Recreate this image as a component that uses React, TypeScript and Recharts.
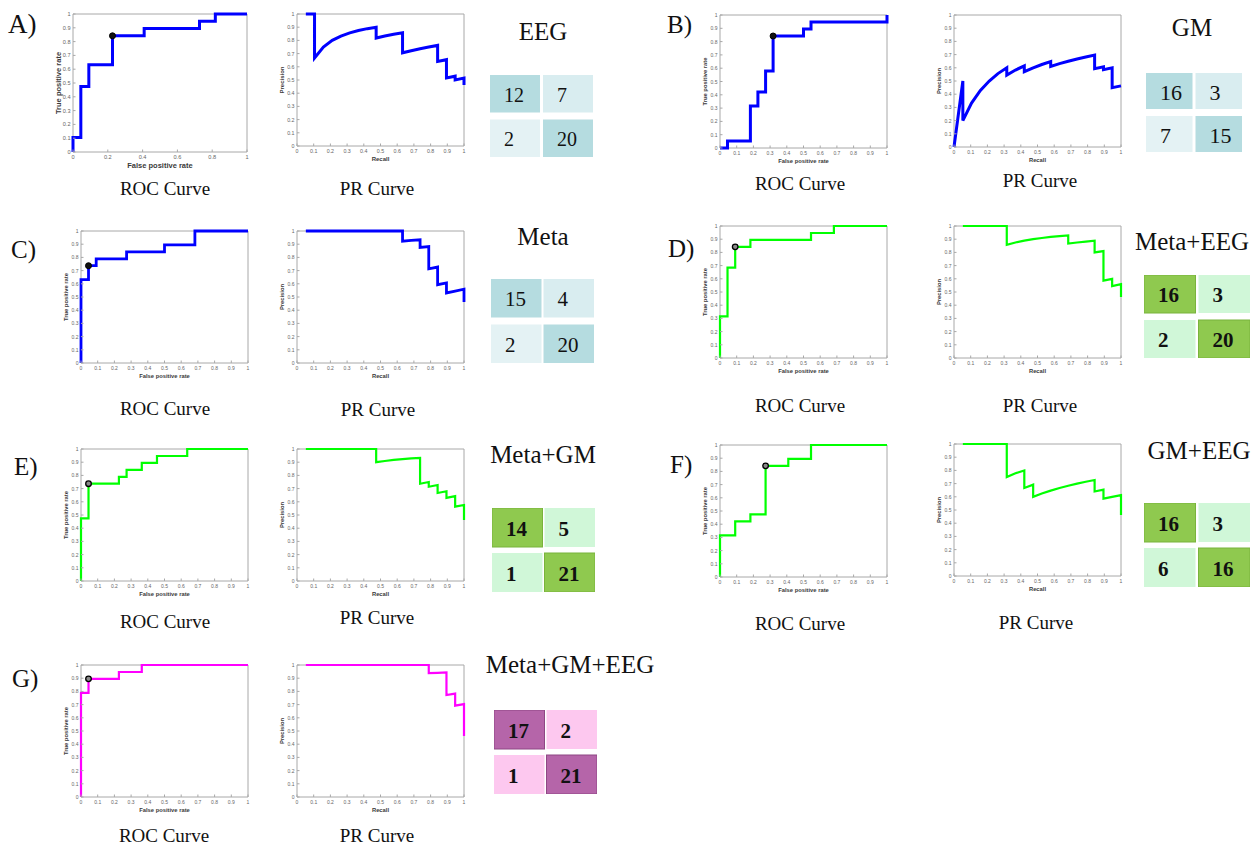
import React from 'react';
import { ComposedChart, ScatterChart, Line, Scatter, XAxis, YAxis, CartesianGrid } from 'recharts';

// ---------------- data ----------------
const TICKS = [0, 0.1, 0.2, 0.3, 0.4, 0.5, 0.6, 0.7, 0.8, 0.9, 1];
const TICKS_COARSE = [0, 0.2, 0.4, 0.6, 0.8, 1];
const FRAME = [0, 1];

const ROC_A = [[0,0],[0,0.105],[0.045,0.105],[0.045,0.474],[0.091,0.474],[0.091,0.632],[0.227,0.632],[0.227,0.842],[0.409,0.842],[0.409,0.895],[0.727,0.895],[0.727,0.947],[0.818,0.947],[0.818,1],[1,1]];
const OP_A = [0.227, 0.842];
const PR_A = [[0.053,1],[0.105,1],[0.105,0.667],[0.158,0.75],[0.211,0.8],[0.263,0.833],[0.316,0.857],[0.368,0.875],[0.421,0.889],[0.474,0.9],[0.474,0.818],[0.526,0.833],[0.579,0.846],[0.632,0.857],[0.632,0.706],[0.684,0.722],[0.737,0.737],[0.789,0.75],[0.842,0.762],[0.842,0.64],[0.895,0.654],[0.895,0.515],[0.947,0.529],[0.947,0.5],[1,0.514],[1,0.463]];
const CM_A = [12, 7, 2, 20];

const ROC_B = [[0,0],[0.045,0],[0.045,0.053],[0.182,0.053],[0.182,0.316],[0.227,0.316],[0.227,0.421],[0.273,0.421],[0.273,0.579],[0.318,0.579],[0.318,0.842],[0.5,0.842],[0.5,0.895],[0.545,0.895],[0.545,0.947],[1,0.947],[1,1]];
const OP_B = [0.318, 0.842];
const PR_B = [[0,0],[0.053,0.5],[0.053,0.2],[0.105,0.333],[0.158,0.429],[0.211,0.5],[0.263,0.556],[0.316,0.6],[0.316,0.545],[0.368,0.583],[0.421,0.615],[0.421,0.571],[0.474,0.6],[0.526,0.625],[0.579,0.647],[0.579,0.611],[0.632,0.632],[0.684,0.65],[0.737,0.667],[0.789,0.682],[0.842,0.696],[0.842,0.593],[0.895,0.607],[0.895,0.586],[0.947,0.6],[0.947,0.45],[1,0.463]];
const CM_B = [16, 3, 7, 15];

const ROC_C = [[0,0],[0,0.632],[0.045,0.632],[0.045,0.737],[0.091,0.737],[0.091,0.789],[0.273,0.789],[0.273,0.842],[0.5,0.842],[0.5,0.895],[0.682,0.895],[0.682,1],[1,1]];
const OP_C = [0.045, 0.737];
const PR_C = [[0.053,1],[0.632,1],[0.632,0.923],[0.684,0.929],[0.737,0.933],[0.737,0.875],[0.789,0.882],[0.789,0.714],[0.842,0.727],[0.842,0.593],[0.895,0.607],[0.895,0.531],[0.947,0.545],[1,0.559],[1,0.463]];
const CM_C = [15, 4, 2, 20];

const ROC_D = [[0,0],[0,0.316],[0.045,0.316],[0.045,0.684],[0.091,0.684],[0.091,0.842],[0.182,0.842],[0.182,0.895],[0.545,0.895],[0.545,0.947],[0.682,0.947],[0.682,1],[1,1]];
const OP_D = [0.091, 0.842];
const PR_D = [[0.053,1],[0.316,1],[0.316,0.857],[0.368,0.875],[0.421,0.889],[0.474,0.9],[0.526,0.909],[0.579,0.917],[0.632,0.923],[0.684,0.929],[0.684,0.867],[0.737,0.875],[0.789,0.882],[0.842,0.889],[0.842,0.8],[0.895,0.81],[0.895,0.586],[0.947,0.6],[0.947,0.545],[1,0.559],[1,0.463]];
const CM_D = [16, 3, 2, 20];

const ROC_E = [[0,0],[0,0.474],[0.045,0.474],[0.045,0.737],[0.227,0.737],[0.227,0.789],[0.273,0.789],[0.273,0.842],[0.364,0.842],[0.364,0.895],[0.455,0.895],[0.455,0.947],[0.636,0.947],[0.636,1],[1,1]];
const OP_E = [0.045, 0.737];
const PR_E = [[0.053,1],[0.474,1],[0.474,0.9],[0.526,0.909],[0.579,0.917],[0.632,0.923],[0.684,0.929],[0.737,0.933],[0.737,0.737],[0.789,0.75],[0.789,0.714],[0.842,0.727],[0.842,0.667],[0.895,0.68],[0.895,0.63],[0.947,0.643],[0.947,0.563],[1,0.576],[1,0.463]];
const CM_E = [14, 5, 1, 21];

const ROC_F = [[0,0],[0,0.316],[0.091,0.316],[0.091,0.421],[0.182,0.421],[0.182,0.474],[0.273,0.474],[0.273,0.842],[0.409,0.842],[0.409,0.895],[0.545,0.895],[0.545,1],[1,1]];
const OP_F = [0.273, 0.842];
const PR_F = [[0.053,1],[0.316,1],[0.316,0.75],[0.368,0.778],[0.421,0.8],[0.421,0.667],[0.474,0.692],[0.474,0.6],[0.526,0.625],[0.579,0.647],[0.632,0.667],[0.684,0.684],[0.737,0.7],[0.789,0.714],[0.842,0.727],[0.842,0.64],[0.895,0.654],[0.895,0.586],[0.947,0.6],[1,0.613],[1,0.463]];
const CM_F = [16, 3, 6, 16];

const ROC_G = [[0,0],[0,0.789],[0.045,0.789],[0.045,0.895],[0.227,0.895],[0.227,0.947],[0.364,0.947],[0.364,1],[1,1]];
const OP_G = [0.045, 0.895];
const PR_G = [[0.053,1],[0.789,1],[0.789,0.938],[0.842,0.941],[0.895,0.944],[0.895,0.773],[0.947,0.783],[0.947,0.692],[1,0.704],[1,0.463]];
const CM_G = [17, 2, 1, 21];

const TITLES = ['EEG', 'GM', 'Meta', 'Meta+EEG', 'Meta+GM', 'GM+EEG', 'Meta+GM+EEG'];
const LETTERS = ['A)', 'B)', 'C)', 'D)', 'E)', 'F)', 'G)'];

// ---------------- styles / layout ----------------
const SANS = 'Liberation Sans, Arial, sans-serif';
const SERIF = 'Liberation Serif, Times New Roman, serif';
const AX = '#a8a8a8';
const TICKTXT = '#666';
const LAB = '#3a3a3a';
const BLUE = '#0000ff';
const GREEN = '#00ff00';
const MAGENTA = '#ff00ff';

const TEAL = ['#b5dce0', '#d9edf0', '#e4f2f4', '#b5dce0'];
const LIME = ['#8fc94f', '#d0f7d8', '#d0f7d8', '#8fc94f'];
const PINK = ['#b565a9', '#fdc8ef', '#fdc8ef', '#b565a9'];

const mkTick = (side: string, fs: number) => (p: any) => {
  const { x, y, payload } = p;
  const v = payload.value as number;
  const s = v === 0 ? '0' : v === 1 ? '1' : v.toFixed(1);
  const t = 2.5;
  if (side === 'b') {
    return (
      <g>
        <line x1={x} y1={y} x2={x} y2={y - t} stroke={AX} />
        <text x={x} y={y + 2.5} fontSize={fs} fill={TICKTXT} textAnchor="middle" dominantBaseline="hanging" fontFamily={SANS}>{s}</text>
      </g>
    );
  }
  if (side === 't') return <line x1={x} y1={y} x2={x} y2={y + t} stroke={AX} />;
  if (side === 'l') {
    return (
      <g>
        <line x1={x} y1={y} x2={x + t} y2={y} stroke={AX} />
        <text x={x - 2.5} y={y} fontSize={fs} fill={TICKTXT} textAnchor="end" dominantBaseline="central" fontFamily={SANS}>{s}</text>
      </g>
    );
  }
  return <line x1={x} y1={y} x2={x - t} y2={y} stroke={AX} />;
};

type Box = { x: number; y: number; w: number; h: number };

function Plot(props: {
  box: Box; pts: number[][]; op?: number[]; color: string; sw: number; hollow?: boolean;
  xTicks: number[]; xLab: string; yLab: string; tfs: number; lfs: number;
}) {
  const { box, pts, op, color, sw, hollow, xTicks, xLab, yLab, tfs, lfs } = props;
  const L = 30, T = 4, R = 4, B = 26;
  const W = box.w + L + R, H = box.h + T + B;
  const data = pts.map(([x, y]) => ({ x, y }));
  const dot = op ? [{ x: op[0], y: op[1] }] : [];
  const common: any = {
    type: 'number', domain: [0, 1], interval: 0,
    tickLine: false, tickSize: 0, tickMargin: 0, axisLine: false,
  };
  return (
    <div style={{ position: 'absolute', left: box.x - L, top: box.y - T, width: W, height: H }}>
      <ComposedChart width={W} height={H} margin={{ top: T, right: R, bottom: 0, left: 0 }} style={{ fontFamily: SANS, overflow: 'visible' }}>
        <CartesianGrid xAxisId="b" yAxisId="l" stroke={AX} strokeWidth={1} strokeDasharray=""
          horizontalValues={FRAME} verticalValues={FRAME} />
        <XAxis xAxisId="b" dataKey="x" {...common} ticks={xTicks} height={B} tick={mkTick('b', tfs)}
          label={{ value: xLab, position: 'center', fontSize: lfs, fontWeight: 700, fill: LAB, fontFamily: SANS }} />
        <XAxis xAxisId="t" orientation="top" {...common} ticks={xTicks} height={0} tick={mkTick('t', tfs)} />
        <YAxis yAxisId="l" dataKey="y" {...common} ticks={TICKS} width={L} tick={mkTick('l', tfs)}
          label={{ value: yLab, angle: -90, position: 'center', fontSize: lfs, fontWeight: 700, fill: LAB, fontFamily: SANS }} />
        <YAxis yAxisId="r" orientation="right" {...common} ticks={TICKS} width={0} tick={mkTick('r', tfs)} />
        <Line xAxisId="b" yAxisId="l" data={data} dataKey="y" type="linear" stroke={color} strokeWidth={sw}
          dot={false} activeDot={false} isAnimationActive={false} />
        {op && (
          <Scatter xAxisId="b" yAxisId="l" data={dot} isAnimationActive={false}
            shape={(p: any) => (
              <circle cx={p.cx} cy={p.cy} r={hollow ? 2.8 : 3} fill={hollow ? '#8a8a8a' : '#111'} stroke="#000" strokeWidth={hollow ? 1.3 : 1} />
            )} />
        )}
      </ComposedChart>
    </div>
  );
}

function Matrix(props: { box: Box; vals: number[]; pal: string[]; gx: number; gy: number; fs: number; bold?: boolean; edge?: string }) {
  const { box, vals, pal, gx, gy, fs, bold, edge } = props;
  const cw = (box.w - gx) / 2, ch = (box.h - gy) / 2;
  const kx = cw / (2 * box.w), ky = ch / (2 * box.h);
  const ax = kx / (1 - 2 * kx), ay = ky / (1 - 2 * ky);
  const data = vals.map((v, i) => ({ c: i % 2, r: Math.floor(i / 2), v, i }));
  return (
    <div style={{ position: 'absolute', left: box.x, top: box.y, width: box.w, height: box.h }}>
      <ScatterChart width={box.w} height={box.h} margin={{ top: 0, right: 0, bottom: 0, left: 0 }}>
        <XAxis type="number" dataKey="c" domain={[-ax, 1 + ax]} hide allowDataOverflow />
        <YAxis type="number" dataKey="r" domain={[-ay, 1 + ay]} reversed hide allowDataOverflow />
        <Scatter data={data} isAnimationActive={false}
          shape={(p: any) => {
            const i = p.payload.i;
            const diag = i === 0 || i === 3;
            return (
              <g>
                <rect x={p.cx - cw / 2} y={p.cy - ch / 2} width={cw} height={ch} fill={pal[i]}
                  stroke={diag && edge ? edge : 'none'} strokeWidth={1} />
                <text x={p.cx - cw / 2 + 14} y={p.cy + 1} fontSize={fs} fontWeight={bold ? 700 : 400}
                  fontFamily={SERIF} fill="#111" dominantBaseline="central">{p.payload.v}</text>
              </g>
            );
          }} />
      </ScatterChart>
    </div>
  );
}

const SMALL = { tfs: 5, lfs: 5.8 };

const PANELS = [
  { roc: ROC_A, op: OP_A, pr: PR_A, cm: CM_A, color: BLUE, sw: 3, hollow: false,
    rocBox: { x: 73, y: 14, w: 174, h: 138 }, prBox: { x: 297, y: 14, w: 167, h: 132 },
    rocT: { tfs: 5.6, lfs: 7.5 }, prT: { tfs: 5.3, lfs: 6 }, rocX: TICKS_COARSE,
    cmBox: { x: 490, y: 75, w: 103, h: 82 }, pal: TEAL, gx: 3, gy: 7, cfs: 20, bold: false, edge: '' },
  { roc: ROC_B, op: OP_B, pr: PR_B, cm: CM_B, color: BLUE, sw: 3, hollow: false,
    rocBox: { x: 720, y: 15, w: 167, h: 133 }, prBox: { x: 954, y: 15, w: 167, h: 132 },
    rocT: SMALL, prT: SMALL, rocX: TICKS,
    cmBox: { x: 1146, y: 73, w: 96, h: 79 }, pal: TEAL, gx: 3, gy: 7, cfs: 22, bold: false, edge: '' },
  { roc: ROC_C, op: OP_C, pr: PR_C, cm: CM_C, color: BLUE, sw: 2.8, hollow: false,
    rocBox: { x: 81, y: 231, w: 167, h: 132 }, prBox: { x: 297, y: 231, w: 167, h: 132 },
    rocT: SMALL, prT: SMALL, rocX: TICKS,
    cmBox: { x: 491, y: 279, w: 103, h: 84 }, pal: TEAL, gx: 2, gy: 7, cfs: 21, bold: false, edge: '' },
  { roc: ROC_D, op: OP_D, pr: PR_D, cm: CM_D, color: GREEN, sw: 2.2, hollow: true,
    rocBox: { x: 720, y: 226, w: 167, h: 132 }, prBox: { x: 954, y: 226, w: 167, h: 132 },
    rocT: SMALL, prT: SMALL, rocX: TICKS,
    cmBox: { x: 1144, y: 275, w: 106, h: 83 }, pal: LIME, gx: 3, gy: 7, cfs: 21, bold: true, edge: '#79b33c' },
  { roc: ROC_E, op: OP_E, pr: PR_E, cm: CM_E, color: GREEN, sw: 2.2, hollow: true,
    rocBox: { x: 81, y: 449, w: 167, h: 132 }, prBox: { x: 297, y: 449, w: 167, h: 132 },
    rocT: SMALL, prT: SMALL, rocX: TICKS,
    cmBox: { x: 492, y: 508, w: 103, h: 84 }, pal: LIME, gx: 2, gy: 6, cfs: 21, bold: true, edge: '#79b33c' },
  { roc: ROC_F, op: OP_F, pr: PR_F, cm: CM_F, color: GREEN, sw: 2.2, hollow: true,
    rocBox: { x: 720, y: 445, w: 167, h: 132 }, prBox: { x: 954, y: 444, w: 167, h: 132 },
    rocT: SMALL, prT: SMALL, rocX: TICKS,
    cmBox: { x: 1144, y: 503, w: 106, h: 84 }, pal: LIME, gx: 3, gy: 6, cfs: 21, bold: true, edge: '#79b33c' },
  { roc: ROC_G, op: OP_G, pr: PR_G, cm: CM_G, color: MAGENTA, sw: 2.2, hollow: true,
    rocBox: { x: 81, y: 665, w: 167, h: 132 }, prBox: { x: 297, y: 665, w: 167, h: 132 },
    rocT: SMALL, prT: SMALL, rocX: TICKS,
    cmBox: { x: 494, y: 710, w: 103, h: 84 }, pal: PINK, gx: 2, gy: 6, cfs: 21, bold: true, edge: '#8e4784' },
];

const LETTER_POS = [[8, 33, 27], [667, 33, 25], [11, 258, 25], [668, 257, 25], [14, 475, 25], [670, 473, 25], [12, 687, 25]];
const TITLE_POS = [[543, 40], [1192, 36], [543, 245], [1192, 250], [543, 463], [1199, 459], [570, 673]];
const CAPTION_POS = [
  [[165, 195], [377, 195]], [[800, 190], [1040, 187]], [[165, 415], [378, 416]], [[800, 412], [1040, 412]],
  [[165, 628], [377, 624]], [[800, 630], [1036, 629]], [[164, 842], [377, 842]],
];

export default function App() {
  return (
    <div style={{ position: 'absolute', left: 0, top: 0, width: 1252, height: 847, background: '#fff', overflow: 'hidden' }}>
      {PANELS.map((p, i) => (
        <React.Fragment key={i}>
          <Plot box={p.rocBox} pts={p.roc} op={p.op} color={p.color} sw={p.sw} hollow={p.hollow}
            xTicks={p.rocX} xLab="False positive rate" yLab="True positive rate" tfs={p.rocT.tfs} lfs={p.rocT.lfs} />
          <Plot box={p.prBox} pts={p.pr} color={p.color} sw={p.sw}
            xTicks={TICKS} xLab="Recall" yLab="Precision" tfs={p.prT.tfs} lfs={p.prT.lfs} />
          <Matrix box={p.cmBox} vals={p.cm} pal={p.pal} gx={p.gx} gy={p.gy} fs={p.cfs} bold={p.bold} edge={p.edge} />
        </React.Fragment>
      ))}
      <svg width={1252} height={847} style={{ position: 'absolute', left: 0, top: 0, pointerEvents: 'none' }}>
        {LETTERS.map((t, i) => (
          <text key={'l' + i} x={LETTER_POS[i][0]} y={LETTER_POS[i][1]} fontSize={LETTER_POS[i][2]} fontFamily={SERIF} fill="#111">{t}</text>
        ))}
        {TITLES.map((t, i) => (
          <text key={'t' + i} x={TITLE_POS[i][0]} y={TITLE_POS[i][1]} fontSize={25} fontFamily={SERIF} fill="#111" textAnchor="middle">{t}</text>
        ))}
        {CAPTION_POS.map((c, i) => (
          <React.Fragment key={'c' + i}>
            <text x={c[0][0]} y={c[0][1]} fontSize={19} fontFamily={SERIF} fill="#111" textAnchor="middle">ROC Curve</text>
            <text x={c[1][0]} y={c[1][1]} fontSize={19} fontFamily={SERIF} fill="#111" textAnchor="middle">PR Curve</text>
          </React.Fragment>
        ))}
      </svg>
    </div>
  );
}
